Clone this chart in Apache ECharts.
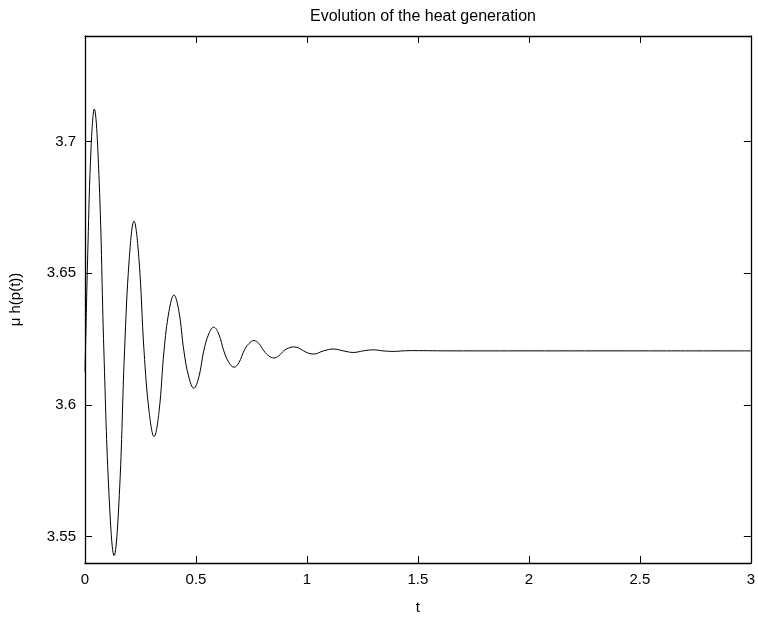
<!DOCTYPE html>
<html lang="en" style="height: 100%">
<head>
  <meta charset="utf-8">
</head>
<body style="height: 100%; margin: 0; background: #fff">
  <div id="container" style="width: 758px; height: 621px"></div>

  <script type="text/javascript" src="https://fastly.jsdelivr.net/npm/echarts@6.0.0/dist/echarts.min.js"></script>
  <script type="text/javascript">
    // t values and mu h(p(t))
    var tValues = [
      0, 0.0134, 0.0269, 0.0416, 0.0636, 0.0851, 0.1084, 0.1312, 0.1545, 0.1782,
      0.1993, 0.2207, 0.2431, 0.2660, 0.2888, 0.3112, 0.3336, 0.3560, 0.3784, 0.4007,
      0.4231, 0.4455, 0.4679, 0.4903, 0.5127, 0.5351, 0.5575, 0.5799, 0.6027, 0.6255,
      0.6484, 0.6716, 0.6940, 0.7164, 0.7388, 0.7612, 0.7836, 0.8060, 0.8284, 0.8508,
      0.8731, 0.8955, 0.9179, 0.9403, 0.9627, 0.9851, 1.0075, 1.0299, 1.0746, 1.1194,
      1.1642, 1.2090, 1.2537, 1.2985, 1.3433, 1.3881, 1.4328, 1.4776, 1.6570, 2.0,
      2.5, 3.0
    ];
    var heatValues = [
      3.6126, 3.6607, 3.6968, 3.7123, 3.6854, 3.6205, 3.5656, 3.5428, 3.5656, 3.6205,
      3.6553, 3.6697, 3.6553, 3.6205, 3.5975, 3.5880, 3.5975, 3.6205, 3.6355, 3.6417,
      3.6355, 3.6205, 3.6105, 3.6063, 3.6105, 3.6205, 3.6269, 3.6295, 3.6269, 3.6205,
      3.6161, 3.6143, 3.6161, 3.6205, 3.6233, 3.6244, 3.6233, 3.6205, 3.6186, 3.6178,
      3.6186, 3.6205, 3.6216, 3.6220, 3.6216, 3.6205, 3.6196, 3.6193, 3.6205, 3.6212,
      3.6205, 3.6199, 3.6205, 3.6209, 3.6205, 3.6203, 3.6205, 3.6206, 3.6205, 3.6205,
      3.6205, 3.6205
    ];
    var yTicks = [3.55, 3.6, 3.65, 3.7];

    var points = [];
    for (var i = 0; i < tValues.length; i++) {
      points.push([tValues[i], heatValues[i]]);
    }

    var dom = document.getElementById('container');
    var myChart = echarts.init(dom, null, { renderer: 'canvas' });

    var font = 'Liberation Sans, Arial, sans-serif';
    var frame = { show: true, onZero: false, lineStyle: { color: '#000', width: 1.3 } };
    var tick = { show: true, inside: true, length: 7, lineStyle: { color: '#000', width: 1 } };

    var option = {
      animation: false,
      backgroundColor: '#fff',
      title: {
        text: 'Evolution of the heat generation',
        left: 418,
        textAlign: 'center',
        top: 4,
        textStyle: { fontFamily: font, fontSize: 16, fontWeight: 'normal', color: '#000' }
      },
      grid: { left: 83, right: 5, top: 36, bottom: 58 },
      xAxis: [
        {
          type: 'value',
          min: 0,
          max: 3,
          interval: 0.5,
          name: 't',
          nameLocation: 'middle',
          nameGap: 37,
          nameTextStyle: { fontFamily: font, fontSize: 15, color: '#000' },
          axisLine: frame,
          axisTick: tick,
          axisLabel: { fontFamily: font, fontSize: 15, color: '#000', margin: 9 },
          splitLine: { show: false }
        },
        {
          type: 'value',
          position: 'top',
          min: 0,
          max: 3,
          interval: 0.5,
          axisLine: frame,
          axisTick: tick,
          axisLabel: { show: false },
          splitLine: { show: false }
        }
      ],
      yAxis: [
        {
          type: 'value',
          min: 3.54,
          max: 3.74,
          name: 'μ h(p(t))',
          nameLocation: 'middle',
          nameGap: 62,
          nameTextStyle: { fontFamily: font, fontSize: 15, color: '#000' },
          axisLine: frame,
          axisTick: Object.assign({ customValues: yTicks }, tick),
          axisLabel: { customValues: yTicks, fontFamily: font, fontSize: 15, color: '#000', margin: 9 },
          splitLine: { show: false }
        },
        {
          type: 'value',
          position: 'right',
          min: 3.54,
          max: 3.74,
          axisLine: frame,
          axisTick: Object.assign({ customValues: yTicks }, tick),
          axisLabel: { show: false, customValues: yTicks },
          splitLine: { show: false }
        }
      ],
      series: [
        {
          type: 'line',
          data: points,
          showSymbol: false,
          smooth: 0.4,
          lineStyle: { color: '#000', width: 1 }
        }
      ]
    };

    myChart.setOption(option);
    window.addEventListener('resize', myChart.resize);
  </script>
</body>
</html>
